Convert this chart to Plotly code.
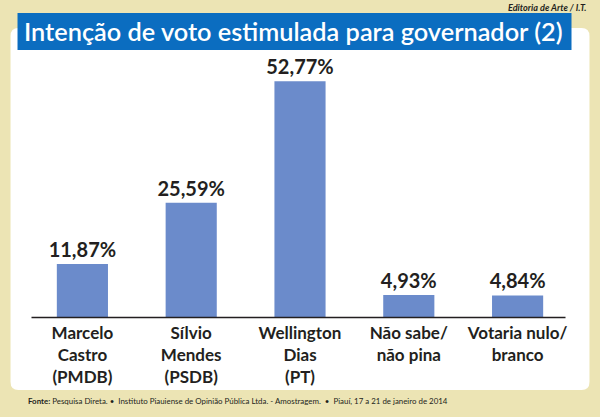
import plotly.graph_objects as go

categories = ["Marcelo<br>Castro<br>(PMDB)", "Sílvio<br>Mendes<br>(PSDB)", "Wellington<br>Dias<br>(PT)",
              "Não sabe/<br>não pina", "Votaria nulo/<br>branco"]
values = [11.87, 25.59, 52.77, 4.93, 4.84]
value_labels = ["11,87%", "25,59%", "52,77%", "4,93%", "4,84%"]

title_text = "Intenção de voto estimulada para governador (2)"
credit_text = "Editoria de Arte / I.T."
source_text = ("<b>Fonte:</b> Pesquisa Direta. •  Instituto Piauiense de Opinião Pública Ltda. - Amostragem.  "
               "•  Piauí, 17 a 21 de janeiro de 2014")

W, H = 600, 417
L, R, T, B = 27.5, 27.5, 49, 100
pw, ph = W - L - R, H - T - B

def px(x):
    return (x - L) / pw

def py(y):
    return (H - B - y) / ph

BEIGE = "#ece4b4"
BLUE = "#0b6dc0"
BAR = "#6b8bcb"
DARK = "#231f20"
FONT = "Lato"

fig = go.Figure()
fig.add_trace(go.Bar(
    x=categories, y=values, text=value_labels, textposition="outside", constraintext="none",
    textfont=dict(family=FONT, size=20, color=DARK, weight="bold"),
    marker=dict(color=BAR, line=dict(width=0)), width=0.47, cliponaxis=False,
    hoverinfo="skip"))

# rounded white panel
x0, x1, y0, y1, r = px(10), px(590), py(28), py(390), 8
rx, ry = r / pw, r / ph
path = (f"M {x0+rx},{y0} L {x1-rx},{y0} Q {x1},{y0} {x1},{y0-ry} "
        f"L {x1},{y1+ry} Q {x1},{y1} {x1-rx},{y1} L {x0+rx},{y1} Q {x0},{y1} {x0},{y1+ry} "
        f"L {x0},{y0-ry} Q {x0},{y0} {x0+rx},{y0} Z")
shapes = [
    dict(type="path", path=path, xref="paper", yref="paper", fillcolor="white",
         line=dict(width=0), layer="below"),
    dict(type="rect", xref="paper", yref="paper", x0=px(17), x1=px(572), y0=py(13), y1=py(50),
         fillcolor=BLUE, line=dict(width=0), layer="above"),
    dict(type="line", xref="paper", yref="paper", x0=px(31), x1=px(566), y0=py(317.5), y1=py(317.5),
         line=dict(color=DARK, width=1.6)),
]

annotations = [
    dict(text=title_text, xref="paper", yref="paper", x=px(21), y=py(31.5), xanchor="left",
         yanchor="middle", showarrow=False, font=dict(family=FONT, size=25.3, color="white", weight=600)),
    dict(text=f"<i><b>{credit_text}</b></i>", xref="paper", yref="paper", x=px(590), y=py(7),
         xanchor="right", yanchor="middle", showarrow=False, font=dict(family=FONT, size=9.1, color=DARK)),
    dict(text=source_text, xref="paper", yref="paper", x=px(25), y=py(401), xanchor="left",
         yanchor="middle", showarrow=False, font=dict(family=FONT, size=7.9, color=DARK)),
]

fig.update_layout(
    width=W, height=H, margin=dict(l=L, r=R, t=T, b=B, pad=0),
    paper_bgcolor=BEIGE, plot_bgcolor="rgba(0,0,0,0)",
    showlegend=False, bargap=0.53,
    shapes=shapes, annotations=annotations,
    xaxis=dict(showline=False, showgrid=False, zeroline=False, ticks="", ticklabelstandoff=4,
               tickfont=dict(family=FONT, size=17, color=DARK, weight="bold"), fixedrange=True),
    yaxis=dict(range=[0, 60], visible=False, fixedrange=True),
)

fig.write_html("out.html", config={"displayModeBar": False},
               post_script="document.body.style.margin='0';document.body.style.overflow='hidden';")
